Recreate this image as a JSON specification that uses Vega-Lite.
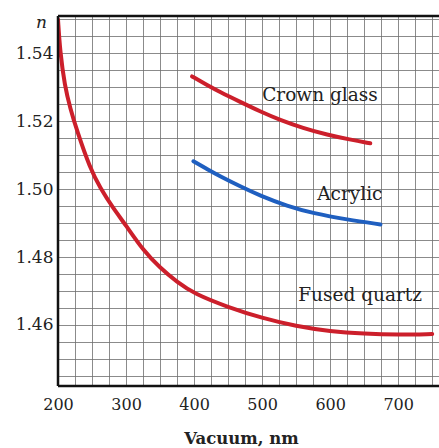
{
  "$schema": "https://vega.github.io/schema/vega-lite/v6.json",
  "autosize": "none",
  "width": 381,
  "height": 370,
  "padding": {"left": 58, "top": 16, "right": 0, "bottom": 62},
  "background": "white",
  "config": {"view": {"stroke": null}},
  "resolve": {"axis": {"x": "independent", "y": "independent"}},
  "datasets": {
    "curves": [
      {"material": "Fused quartz", "nm": 200, "n": 1.550},
      {"material": "Fused quartz", "nm": 203, "n": 1.5406},
      {"material": "Fused quartz", "nm": 210, "n": 1.5303},
      {"material": "Fused quartz", "nm": 218, "n": 1.5238},
      {"material": "Fused quartz", "nm": 228, "n": 1.5171},
      {"material": "Fused quartz", "nm": 247, "n": 1.5062},
      {"material": "Fused quartz", "nm": 262, "n": 1.5003},
      {"material": "Fused quartz", "nm": 281, "n": 1.4944},
      {"material": "Fused quartz", "nm": 300, "n": 1.4893},
      {"material": "Fused quartz", "nm": 325, "n": 1.4820},
      {"material": "Fused quartz", "nm": 350, "n": 1.4768},
      {"material": "Fused quartz", "nm": 375, "n": 1.4726},
      {"material": "Fused quartz", "nm": 400, "n": 1.4692},
      {"material": "Fused quartz", "nm": 450, "n": 1.4652},
      {"material": "Fused quartz", "nm": 500, "n": 1.4620},
      {"material": "Fused quartz", "nm": 550, "n": 1.4596},
      {"material": "Fused quartz", "nm": 600, "n": 1.4581},
      {"material": "Fused quartz", "nm": 650, "n": 1.4574},
      {"material": "Fused quartz", "nm": 700, "n": 1.4571},
      {"material": "Fused quartz", "nm": 750, "n": 1.4573},
      {"material": "Crown glass", "nm": 397, "n": 1.5332},
      {"material": "Crown glass", "nm": 419, "n": 1.5307},
      {"material": "Crown glass", "nm": 438, "n": 1.5286},
      {"material": "Crown glass", "nm": 468, "n": 1.5257},
      {"material": "Crown glass", "nm": 497, "n": 1.5229},
      {"material": "Crown glass", "nm": 526, "n": 1.5204},
      {"material": "Crown glass", "nm": 560, "n": 1.5180},
      {"material": "Crown glass", "nm": 596, "n": 1.5160},
      {"material": "Crown glass", "nm": 629, "n": 1.5146},
      {"material": "Crown glass", "nm": 659, "n": 1.5135},
      {"material": "Acrylic", "nm": 399, "n": 1.5082},
      {"material": "Acrylic", "nm": 419, "n": 1.5059},
      {"material": "Acrylic", "nm": 438, "n": 1.5038},
      {"material": "Acrylic", "nm": 468, "n": 1.5008},
      {"material": "Acrylic", "nm": 497, "n": 1.4981},
      {"material": "Acrylic", "nm": 537, "n": 1.4950},
      {"material": "Acrylic", "nm": 575, "n": 1.4929},
      {"material": "Acrylic", "nm": 625, "n": 1.4910},
      {"material": "Acrylic", "nm": 674, "n": 1.4896}
    ],
    "labels": [
      {"label": "Crown glass", "nm": 585, "n": 1.5276},
      {"label": "Acrylic", "nm": 629, "n": 1.4985},
      {"label": "Fused quartz", "nm": 644, "n": 1.4688}
    ]
  },
  "layer": [
    {
      "data": {"name": "curves"},
      "mark": {"type": "line", "strokeWidth": 4, "strokeCap": "round", "interpolate": "basis", "clip": true},
      "encoding": {
        "x": {
          "field": "nm", "type": "quantitative",
          "scale": {"domain": [200, 760], "nice": false, "zero": false},
          "axis": {
            "values": [200, 225, 250, 275, 300, 325, 350, 375, 400, 425, 450, 475, 500, 525, 550, 575, 600, 625, 650, 675, 700, 725, 750],
            "labelExpr": "datum.value % 100 === 0 ? datum.label : ''",
            "labelOverlap": false,
            "gridColor": "#6e6e6e", "gridOpacity": 0.8, "gridWidth": 1,
            "domain": false, "ticks": false,
            "labelFont": "DejaVu Serif", "labelFontSize": 16, "labelColor": "#222",
            "labelPadding": 10, "labelFlush": false,
            "title": "Vacuum, nm", "titleFont": "DejaVu Serif", "titleFontSize": 16.5,
            "titleFontWeight": "bold", "titleColor": "#222",
            "titleX": 183, "titleY": 57, "titleAlign": "center", "titleBaseline": "alphabetic"
          }
        },
        "y": {
          "field": "n", "type": "quantitative",
          "scale": {"domain": [1.442, 1.551], "nice": false, "zero": false},
          "axis": {
            "values": [1.445, 1.45, 1.455, 1.46, 1.465, 1.47, 1.475, 1.48, 1.485, 1.49, 1.495, 1.5, 1.505, 1.51, 1.515, 1.52, 1.525, 1.53, 1.535, 1.54, 1.545, 1.55],
            "labelExpr": "abs(round(datum.value * 1000)) % 20 === 0 ? format(datum.value, '.2f') : ''",
            "labelOverlap": false,
            "gridColor": "#6e6e6e", "gridOpacity": 0.8, "gridWidth": 1,
            "domain": false, "ticks": false,
            "labelFont": "DejaVu Serif", "labelFontSize": 17, "labelColor": "#222",
            "labelPadding": 5,
            "title": "n", "titleFont": "DejaVu Serif", "titleFontSize": 17,
            "titleFontStyle": "italic", "titleFontWeight": "normal", "titleColor": "#222",
            "titleAngle": 0, "titleX": -17, "titleY": 11, "titleAlign": "center", "titleBaseline": "alphabetic"
          }
        },
        "color": {
          "field": "material", "type": "nominal",
          "scale": {"domain": ["Fused quartz", "Crown glass", "Acrylic"], "range": ["#cc1f2b", "#cc1f2b", "#1f5fc0"]},
          "legend": null
        },
        "detail": {"field": "material"}
      }
    },
    {
      "data": {"name": "labels"},
      "mark": {"type": "text", "font": "DejaVu Serif", "fontSize": 18.5, "color": "#222", "align": "center", "baseline": "middle"},
      "encoding": {
        "x": {"field": "nm", "type": "quantitative", "axis": null},
        "y": {"field": "n", "type": "quantitative", "axis": null},
        "text": {"field": "label"}
      }
    },
    {
      "data": {"values": [{"a": 1}]},
      "mark": {"type": "rule", "color": "#111", "strokeWidth": 2.5},
      "encoding": {"x": {"datum": 200, "type": "quantitative", "axis": null}}
    },
    {
      "data": {"values": [{"a": 1}]},
      "mark": {"type": "rule", "color": "#111", "strokeWidth": 2.5},
      "encoding": {"y": {"datum": 1.551, "type": "quantitative", "axis": null}}
    },
    {
      "data": {"values": [{"a": 1}]},
      "mark": {"type": "rule", "color": "#111", "strokeWidth": 2.5},
      "encoding": {"y": {"datum": 1.442, "type": "quantitative", "axis": null}}
    }
  ]
}
